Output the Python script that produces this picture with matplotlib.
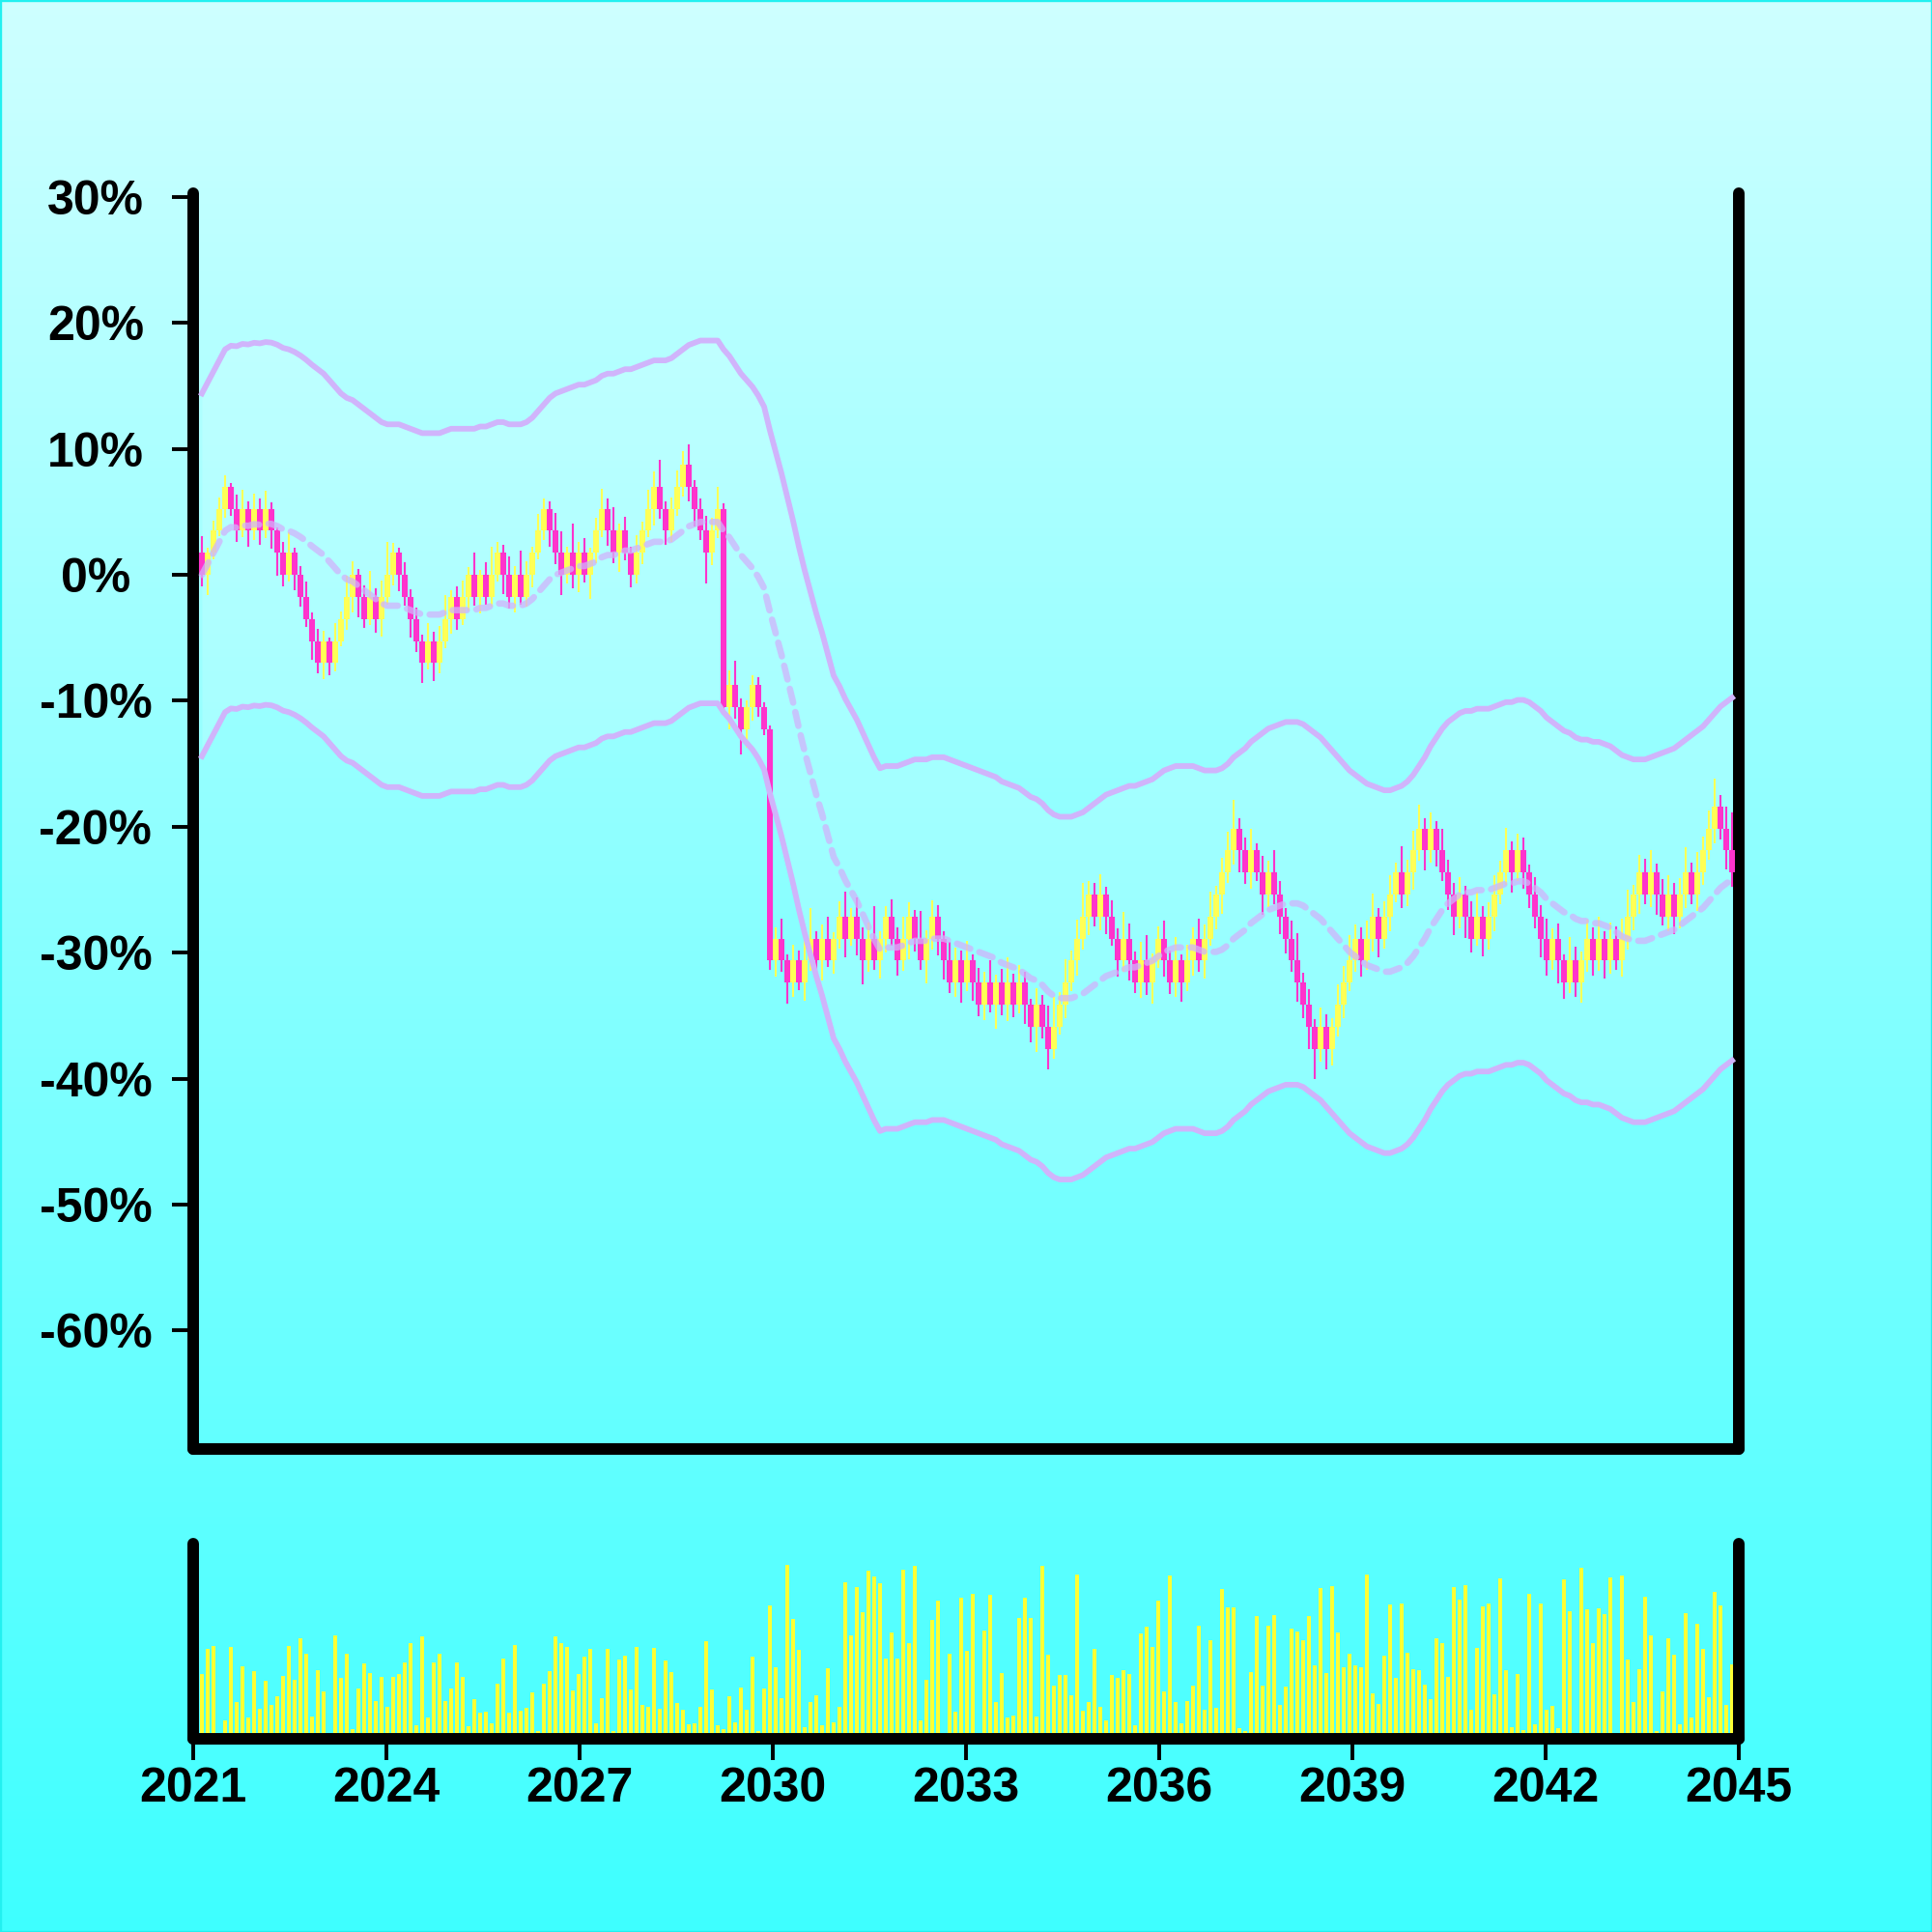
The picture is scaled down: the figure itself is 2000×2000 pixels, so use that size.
import numpy as np
import pandas as pd
import matplotlib
matplotlib.use("Agg")
import matplotlib.pyplot as plt
from matplotlib.patches import Rectangle

# closing values, % change vs. first close (one candle ~ every 33 days)
closes = [
    0.0, 1.75, 3.5, 5.25, 7.0, 5.25, 3.5, 5.25, 3.5, 5.25,
    3.5, 5.25, 3.5, 1.75, 0.0, 1.75, 0.0, -1.75, -3.5, -5.25,
    -7.0, -5.25, -7.0, -5.25, -3.5, -1.75, 0.0, -1.75, -3.5, -1.75,
    -3.5, -1.75, 0.0, 1.75, 0.0, -1.75, -3.5, -5.25, -7.0, -5.25,
    -7.0, -5.25, -3.5, -1.75, -3.5, -1.75, 0.0, -1.75, 0.0, -1.75,
    0.0, 1.75, 0.0, -1.75, 0.0, -1.75, 0.0, 1.75, 3.5, 5.25,
    3.5, 1.75, 0.0, 1.75, 0.0, 1.75, 0.0, 1.75, 3.5, 5.25,
    3.5, 1.75, 3.5, 1.75, 0.0, 1.75, 3.5, 5.25, 7.0, 5.25,
    3.5, 5.25, 7.0, 8.75, 7.0, 5.25, 3.5, 1.75, 3.5, 5.25,
    -10.5, -8.75, -10.5, -12.25, -10.5, -8.75, -10.5, -12.25, -30.63, -28.88,
    -30.63, -32.38, -30.63, -32.38, -30.63, -28.88, -30.63, -28.88, -30.63, -28.88,
    -27.13, -28.88, -27.13, -28.88, -30.63, -28.88, -30.63, -28.88, -27.13, -28.88,
    -30.63, -28.88, -27.13, -28.88, -30.63, -28.88, -27.13, -28.88, -30.63, -32.38,
    -30.63, -32.38, -30.63, -32.38, -34.13, -32.38, -34.13, -32.38, -34.13, -32.38,
    -34.13, -32.38, -34.13, -35.88, -34.13, -35.88, -37.63, -35.88, -34.13, -32.38,
    -30.63, -28.88, -27.13, -25.38, -27.13, -25.38, -27.13, -28.88, -30.63, -28.88,
    -30.63, -32.38, -30.63, -32.38, -30.63, -28.88, -30.63, -32.38, -30.63, -32.38,
    -30.63, -28.88, -30.63, -28.88, -27.13, -25.38, -23.63, -21.88, -20.13, -21.88,
    -23.63, -21.88, -23.63, -25.38, -23.63, -25.38, -27.13, -28.88, -30.63, -32.38,
    -34.13, -35.88, -37.63, -35.88, -37.63, -35.88, -34.13, -32.38, -30.63, -28.88,
    -30.63, -28.88, -27.13, -28.88, -27.13, -25.38, -23.63, -25.38, -23.63, -21.88,
    -20.13, -21.88, -20.13, -21.88, -23.63, -25.38, -27.13, -25.38, -27.13, -28.88,
    -27.13, -28.88, -27.13, -25.38, -23.63, -21.88, -23.63, -21.88, -23.63, -25.38,
    -27.13, -28.88, -30.63, -28.88, -30.63, -32.38, -30.63, -32.38, -30.63, -28.88,
    -30.63, -28.88, -30.63, -28.88, -30.63, -28.88, -27.13, -25.38, -23.63, -25.38,
    -23.63, -25.38, -27.13, -25.38, -27.13, -25.38, -23.63, -25.38, -23.63, -21.88,
    -20.13, -18.38, -20.13, -21.88, -23.63,
]
first_open = 1.75

# wick length above / below the body, in %
wick_up = [
    1.3, 0.4, 0.8, 0.9, 0.9, 0.3, 1.1, 1.5, 0.6, 1.2,
    0.8, 1.4, 0.5, 0.3, 0.9, 1.6, 0.4, 0.7, 1.2, 0.5,
    1.0, 0.8, 0.3, 1.4, 0.6, 1.7, 1.1, 0.5, 0.9, 2.1,
    0.7, 1.3, 2.6, 0.8, 0.4, 1.0, 0.6, 0.9, 0.5, 1.4,
    0.7, 1.2, 1.9, 0.5, 0.8, 1.3, 0.6, 1.8, 0.4, 1.0,
    2.2, 0.9, 0.6, 1.5, 0.7, 1.9, 1.1, 0.5, 1.3, 0.8,
    0.6, 1.4, 1.7, 0.5, 2.3, 0.9, 1.2, 0.4, 1.0, 1.6,
    0.8, 1.9, 0.6, 1.1, 0.5, 1.4, 0.7, 1.5, 1.2, 2.1,
    0.6, 0.9, 1.3, 1.1, 1.6, 0.5, 0.8, 1.2, 1.0, 1.7,
    0.4, 1.2, 1.9, 0.7, 0.5, 0.8, 0.6, 0.4, 0.3, 0.9,
    1.6, 0.5, 1.3, 0.8, 1.9, 2.4, 0.6, 1.1, 1.7, 0.5,
    1.2, 2.0, 0.7, 1.5, 0.9, 1.3, 2.6, 0.6, 0.8, 1.4,
    0.9, 1.7, 1.1, 0.5, 2.2, 0.7, 1.3, 0.9, 0.6, 1.5,
    1.0, 0.8, 1.6, 0.5, 1.2, 0.9, 1.8, 0.6, 1.1, 2.0,
    0.7, 1.4, 0.9, 0.5, 1.3, 0.8, 1.7, 2.4, 1.0, 1.9,
    0.8, 1.5, 2.7, 1.1, 0.9, 1.6, 0.6, 1.3, 0.8, 2.1,
    1.2, 0.7, 1.5, 2.0, 0.6, 1.0, 1.4, 0.8, 1.9, 0.5,
    1.3, 0.9, 1.6, 1.1, 2.0, 0.7, 1.2, 1.5, 2.3, 0.8,
    1.0, 1.7, 0.6, 1.3, 0.9, 1.8, 1.1, 0.7, 1.4, 2.2,
    0.8, 1.2, 0.6, 1.5, 1.0, 0.7, 1.6, 1.3, 2.0, 1.1,
    0.9, 1.4, 1.8, 0.7, 1.2, 1.5, 0.8, 2.1, 1.0, 1.6,
    1.9, 0.8, 1.3, 0.6, 1.7, 1.0, 0.9, 1.4, 0.7, 1.2,
    2.0, 0.8, 1.1, 1.5, 0.9, 1.8, 0.7, 1.3, 1.0, 0.6,
    1.4, 0.9, 1.6, 0.8, 1.2, 0.5, 1.9, 1.1, 0.7, 1.5,
    0.9, 1.7, 0.6, 1.3, 1.0, 1.6, 2.1, 0.8, 1.4, 1.1,
    1.8, 0.7, 1.2, 1.5, 0.9, 1.3, 2.0, 0.8, 1.6, 1.1,
    1.4, 2.2, 0.9, 1.7, 3.0,
]
wick_dn = [
    0.9, 1.6, 0.5, 0.4, 0.7, 0.6, 0.9, 0.5, 1.3, 0.7,
    1.1, 0.6, 1.4, 1.8, 0.9, 0.5, 1.2, 0.8, 0.6, 1.5,
    0.8, 1.3, 1.0, 0.7, 0.4, 0.9, 1.2, 1.6, 0.7, 0.5,
    1.1, 1.4, 0.6, 0.8, 1.3, 0.7, 1.5, 0.9, 1.6, 0.5,
    1.4, 0.8, 0.6, 1.2, 0.9, 0.5, 1.1, 0.7, 1.3, 0.6,
    0.8, 0.5, 1.5, 0.9, 1.2, 0.6, 0.8, 1.0, 0.5, 0.7,
    1.3, 0.9, 1.6, 0.7, 1.1, 1.4, 0.6, 1.9, 0.8, 0.5,
    1.2, 0.8, 1.5, 0.6, 1.0, 0.7, 0.9, 0.5, 1.3, 0.8,
    1.1, 0.9, 0.6, 0.8, 1.2, 1.4, 0.7, 2.4, 1.0, 0.6,
    0.6, 1.8, 0.9, 2.0, 1.5, 1.1, 0.8, 0.5, 0.7, 1.3,
    0.9, 1.7, 1.1, 0.6, 1.4, 0.8, 1.2, 1.6, 0.5, 1.0,
    0.8, 1.5, 0.6, 1.3, 1.9, 0.9, 0.7, 1.4, 1.1, 0.6,
    1.2, 0.8, 1.6, 1.0, 0.7, 1.8, 0.9, 1.3, 1.5, 0.8,
    1.1, 1.6, 0.7, 1.4, 0.9, 1.2, 0.6, 1.9, 0.8, 1.3,
    1.0, 0.7, 1.5, 1.2, 2.0, 0.9, 1.6, 0.8, 0.6, 1.1,
    0.7, 1.2, 0.9, 1.5, 0.8, 1.1, 1.4, 0.6, 1.3, 0.9,
    1.6, 0.8, 1.2, 1.0, 1.7, 0.6, 1.3, 0.9, 1.1, 1.5,
    0.7, 1.2, 0.9, 1.4, 0.6, 1.0, 1.5, 0.8, 1.1, 1.7,
    0.9, 1.3, 0.7, 1.6, 1.0, 0.8, 1.4, 1.2, 0.9, 1.5,
    1.1, 1.8, 2.4, 1.0, 1.6, 1.3, 0.8, 1.1, 0.7, 0.9,
    1.3, 0.7, 1.0, 1.5, 0.8, 1.2, 0.6, 1.1, 0.9, 1.4,
    0.8, 1.6, 1.0, 1.3, 0.7, 1.2, 1.5, 0.9, 1.7, 1.1,
    0.6, 1.4, 0.9, 1.2, 0.8, 1.0, 1.6, 0.7, 1.3, 1.1,
    0.9, 1.5, 1.2, 0.7, 1.8, 1.3, 0.8, 1.1, 1.6, 0.9,
    1.2, 0.8, 1.4, 1.0, 0.7, 1.3, 0.9, 1.1, 1.5, 0.8,
    1.0, 1.6, 0.7, 1.2, 1.4, 0.9, 1.1, 0.8, 1.3, 1.0,
    0.7, 1.2, 0.9, 1.5, 1.1,
]

volume = [
    66.7, 92.7, 96.3, 1, 19.3, 95, 38, 74.7, 22.3, 70,
    31, 60, 34.7, 44.3, 65, 96, 61, 104, 88.3, 22.7,
    71, 49, 0, 106.7, 63, 87.7, 10.3, 52.3, 78, 68,
    38.7, 64.3, 32.7, 64.3, 67, 79, 99, 14, 106, 22.3,
    78.7, 88.3, 38.7, 52, 78.7, 64.3, 12.7, 41, 26.7, 28.3,
    15.7, 56.7, 82.7, 27.3, 97, 29, 31.7, 48, 8.3, 57,
    70.3, 106, 98.7, 95, 49.7, 67, 85.3, 93, 16, 42,
    93, 8, 82, 86, 51.3, 95, 34.7, 33, 94, 31,
    81, 69.3, 37, 29.7, 15, 16.3, 33.3, 101, 50.7, 14,
    10, 44.3, 17, 53, 30, 85.3, 8, 52.3, 138.3, 74,
    41.7, 180, 124.3, 92, 12, 38.3, 45, 14, 73, 17,
    33.3, 162.3, 107.3, 157, 130.7, 174.3, 168.3, 161.3, 83, 110.3,
    83, 175, 99, 179, 18.7, 61, 123, 143, 0, 88,
    28.3, 146.3, 91.3, 149.7, 0, 112.3, 149, 38, 68.3, 21.7,
    24, 124.7, 146.3, 125, 23, 179, 86.7, 55, 66, 66,
    45, 169.7, 29, 38, 93, 33, 18.7, 66.3, 63, 71,
    66.7, 14.3, 109, 116.3, 94.7, 143, 49.3, 169, 38, 16.3,
    39, 55, 117, 29.7, 102, 32.3, 155, 136.3, 136, 11,
    8.3, 69, 127, 55.3, 116.7, 128, 35.3, 54.3, 114, 110.7,
    102, 127, 76, 155.7, 68, 158, 109.7, 74, 88, 76.3,
    74.3, 170, 47, 36.3, 86, 139, 63.3, 140, 89, 72.3,
    71.3, 55.7, 40.7, 104, 99, 64, 156.7, 144.3, 158.7, 30,
    94, 137, 140, 46.3, 166.3, 71, 12, 67.3, 9, 150.3,
    14.7, 140, 30, 34, 11, 165.3, 132, 0, 176.7, 134.3,
    99.3, 135.3, 129, 167, 0, 168.7, 82.3, 38.3, 72.3, 146.7,
    106.7, 7.7, 49, 104, 87, 15, 130, 22, 119, 93,
    43, 152, 138.3, 35.3, 77,
]

year_ticks = list(range(2021, 2046, 3))
pct_ticks = list(range(-60, 31, 10))

BAND_WIN = 20
BAND_HALF = 14.4

UP_C = "#ffff55"
DOWN_C = "#ff33cc"
VOL_C = "#ffff33"
BAND_C = "#d0b4fb"

closes = np.array(closes)
opens = np.r_[first_open, closes[:-1]]
highs = np.maximum(opens, closes) + np.array(wick_up)
lows = np.minimum(opens, closes) - np.array(wick_dn)
n = len(closes)
x = 2021.135 + 0.09 * np.arange(n)

mid = pd.Series(closes).rolling(BAND_WIN, min_periods=1).mean().values
upper = mid + BAND_HALF
lower = mid - BAND_HALF

plt.rcParams["font.family"] = ["Liberation Sans", "DejaVu Sans"]
plt.rcParams["font.weight"] = "bold"

fig = plt.figure(figsize=(10, 10), dpi=200)

# background gradient
bg = fig.add_axes([0, 0, 1, 1], zorder=-10)
t = np.linspace(0, 1, 256)[:, None]
top = np.array([206, 255, 255]) / 255
bot = np.array([62, 255, 255]) / 255
grad = top[None, None, :] * (1 - t[:, :, None]) + bot[None, None, :] * t[:, :, None]
bg.imshow(grad, aspect="auto", extent=[0, 1, 0, 1])
bg.axis("off")
fig.patches.append(Rectangle((0, 0), 1, 1, transform=fig.transFigure,
                             fill=False, edgecolor="#22f0f0", lw=1.2))

ax = fig.add_axes([0.1, 0.25, 0.8, 0.65])
ax.patch.set_alpha(0)

ax.fill_between(x, lower, upper, color="white", alpha=0.15, lw=0, zorder=1)

up = closes >= opens
dn = ~up
ax.vlines(x[up], lows[up], highs[up], color=UP_C, lw=0.75, zorder=2)
ax.vlines(x[dn], lows[dn], highs[dn], color=DOWN_C, lw=0.75, zorder=2)
ax.bar(x[up], (closes - opens)[up], bottom=opens[up], width=0.085, color=UP_C, lw=0, zorder=3)
ax.bar(x[dn], (closes - opens)[dn], bottom=opens[dn], width=0.085, color=DOWN_C, lw=0, zorder=3)

ax.plot(x, upper, color=BAND_C, lw=2.1, zorder=4)
ax.plot(x, lower, color=BAND_C, lw=2.1, zorder=4)
ax.plot(x, mid, color=BAND_C, alpha=0.75, lw=2.4, ls=(0, (2.2, 1.5)),
        dash_capstyle="round", zorder=4)

ax.set_xlim(2021, 2045)
ax.set_ylim(-69.4, 30.3)
ax.set_yticks(pct_ticks)
ax.set_yticklabels([f"{v}%" for v in pct_ticks])
ax.tick_params(axis="x", bottom=False, labelbottom=False)
ax.tick_params(axis="y", length=7.9, width=1.4, pad=28.5, labelsize=18)
for lab in ax.get_yticklabels():
    lab.set_ha("center")
    lab.set_fontweight("bold")

# volume panel
vx = fig.add_axes([0.1, 0.1, 0.8, 0.101])
vx.patch.set_alpha(0)
vx.bar(x, volume, width=0.06, color=VOL_C, lw=0)
vx.set_xlim(2021, 2045)
vx.set_ylim(0, 202)
vx.set_yticks([])
vx.set_xticks(year_ticks)
vx.set_xticklabels([str(y) for y in year_ticks])
vx.tick_params(axis="x", length=7.9, width=1.4, pad=2.5, labelsize=18)
for lab in vx.get_xticklabels():
    lab.set_fontweight("bold")

for a in (ax, vx):
    a.spines["top"].set_visible(False)
    for s in ("left", "right", "bottom"):
        a.spines[s].set_linewidth(4.3)
        a.spines[s].set_color("black")
        a.spines[s].set_capstyle("round")

fig.savefig("out.png", dpi=200)
